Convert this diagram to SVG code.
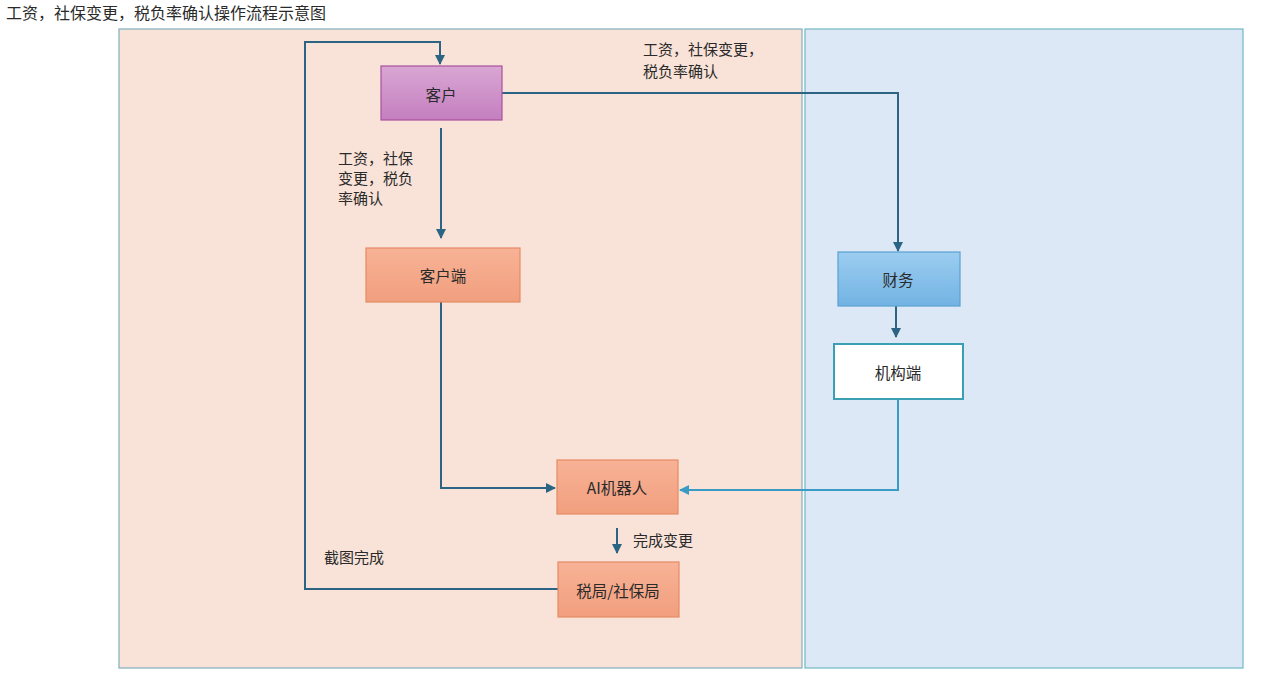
<svg xmlns="http://www.w3.org/2000/svg" width="1261" height="680" viewBox="0 0 1261 680">
<defs>
<linearGradient id="gPurple" x1="0" y1="0" x2="0" y2="1"><stop offset="0" stop-color="#d9a6d4"/><stop offset="1" stop-color="#c47fbf"/></linearGradient>
<linearGradient id="gSalmon" x1="0" y1="0" x2="0" y2="1"><stop offset="0" stop-color="#f8b296"/><stop offset="1" stop-color="#f19f7e"/></linearGradient>
<linearGradient id="gBlue" x1="0" y1="0" x2="0" y2="1"><stop offset="0" stop-color="#9ccdf0"/><stop offset="1" stop-color="#72b3e3"/></linearGradient>
<marker id="arr" viewBox="0 0 10 10" refX="9" refY="5" markerWidth="5" markerHeight="5" orient="auto"><path d="M0,0 L10,5 L0,10 z" fill="#2b6583"/></marker>
<marker id="arrL" viewBox="0 0 10 10" refX="9" refY="5" markerWidth="5" markerHeight="5" orient="auto"><path d="M0,0 L10,5 L0,10 z" fill="#3a9cc4"/></marker>
</defs>
<style>
text{font-family:"Noto Sans CJK SC","Liberation Sans",sans-serif;font-size:15px;fill:#2a2a2a}
.c{text-anchor:middle;dominant-baseline:central;font-size:15.5px}
.ln{fill:none;stroke:#2b6583;stroke-width:2;marker-end:url(#arr)}
.lnL{fill:none;stroke:#3a9cc4;stroke-width:2;marker-end:url(#arrL)}
.salmon{fill:url(#gSalmon);stroke:#e48a64;stroke-width:1.2}
</style>
<rect width="1261" height="680" fill="#ffffff"/>
<text x="6" y="19" style="font-size:16px">工资，社保变更，税负率确认操作流程示意图</text>
<g id="lanes">
<rect x="119" y="29" width="683" height="639" fill="#f9e3d8" stroke="#7fb0bc" stroke-width="1.2"/>
<rect x="805" y="29" width="438" height="639" fill="#dce8f5" stroke="#6fb7c4" stroke-width="1.2"/>
</g>
<g id="connectors">
<path class="ln" d="M502,93 H898 V251"/>
<path class="ln" d="M441,128 V238"/>
<path class="ln" d="M441,302 V488 H555"/>
<path class="ln" d="M896,306 V337"/>
<path class="lnL" d="M898,399 V490 H680"/>
<path class="ln" d="M617,528 V553"/>
<path class="ln" d="M558,589 H305 V42 H440 V64"/>
</g>
<g id="labels">
<text x="643" y="55">工资，社保变更，</text>
<text x="643" y="77">税负率确认</text>
<text x="338" y="164">工资，社保</text>
<text x="338" y="184">变更，税负</text>
<text x="338" y="204">率确认</text>
<text x="633" y="546">完成变更</text>
<text x="324" y="563">截图完成</text>
</g>
<g id="node-kehu">
<rect x="381" y="66" width="121" height="54" fill="url(#gPurple)" stroke="#a8519f" stroke-width="1.2"/>
<text class="c" x="441" y="94">客户</text>
</g>
<g id="node-kehuduan">
<rect class="salmon" x="366" y="248" width="154" height="54"/>
<text class="c" x="443" y="275">客户端</text>
</g>
<g id="node-caiwu">
<rect x="838" y="252" width="122" height="54" fill="url(#gBlue)" stroke="#5aa0d3" stroke-width="1.2"/>
<text class="c" x="898" y="279">财务</text>
</g>
<g id="node-jigouduan">
<rect x="834" y="344" width="129" height="55" fill="#ffffff" stroke="#3a9fb3" stroke-width="2"/>
<text class="c" x="898" y="372">机构端</text>
</g>
<g id="node-ai">
<rect class="salmon" x="557" y="460" width="121" height="54"/>
<text class="c" x="617" y="487">AI机器人</text>
</g>
<g id="node-shuiju">
<rect class="salmon" x="558" y="562" width="121" height="55"/>
<text class="c" x="618" y="590">税局/社保局</text>
</g>
</svg>
